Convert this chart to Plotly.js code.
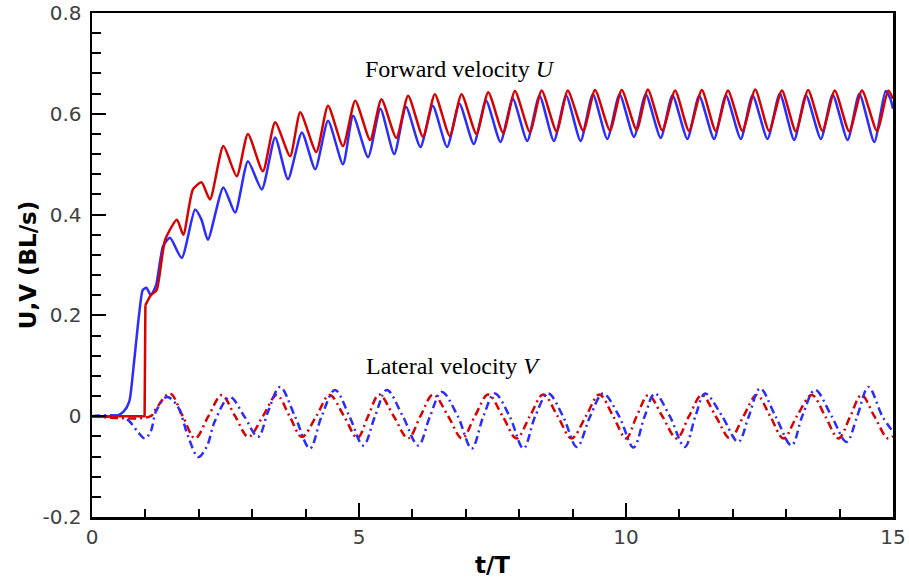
<!DOCTYPE html>
<html>
<head>
<meta charset="utf-8">
<script src="https://cdn.plot.ly/plotly-3.0.1.min.js"></script>
<style>html,body{margin:0;padding:0;background:#fff;}#chart{width:909px;height:581px;}</style>
</head>
<body>
<div id="chart"></div>
<script>
// Forward velocity U, red (solid)
var uRedT = [0,0.985,1.0,1.1,1.21,1.37,1.59,1.71,1.89,2.05,2.21,2.46,2.71,2.92,3.2,3.43,3.71,3.9,4.2,4.42,4.7,4.93,5.21,5.42,5.7,5.92,6.2,6.42,6.7,6.92,7.2,7.42,7.7,7.92,8.2,8.42,8.7,8.91,9.2,9.42,9.7,9.92,10.2,10.41,10.68,10.92,11.18,11.42,11.68,11.91,12.18,12.42,12.68,12.92,13.18,13.41,13.68,13.91,14.18,14.42,14.7,14.91,15.0];
var uRedV = [0,0,0.22,0.24,0.25,0.35,0.39,0.36,0.45,0.464,0.43,0.536,0.476,0.56,0.486,0.583,0.516,0.603,0.524,0.616,0.536,0.626,0.548,0.629,0.552,0.636,0.554,0.639,0.556,0.639,0.56,0.643,0.562,0.645,0.564,0.646,0.565,0.646,0.566,0.647,0.567,0.647,0.568,0.648,0.567,0.646,0.566,0.647,0.566,0.646,0.566,0.648,0.566,0.646,0.565,0.647,0.566,0.646,0.565,0.646,0.566,0.646,0.63];
// Forward velocity U, blue (solid)
var uBlueT = [0,0.45,0.6,0.7,0.78,0.88,0.95,1.02,1.1,1.2,1.33,1.46,1.68,1.93,2.05,2.17,2.46,2.68,2.92,3.18,3.43,3.67,3.93,4.18,4.42,4.7,4.89,5.17,5.4,5.66,5.88,6.15,6.38,6.65,6.88,7.15,7.38,7.65,7.88,8.15,8.38,8.65,8.88,9.15,9.38,9.65,9.88,10.15,10.37,10.65,10.87,11.15,11.37,11.65,11.87,12.15,12.37,12.65,12.88,13.15,13.37,13.65,13.87,14.15,14.37,14.65,14.86,14.95,15.0];
var uBlueV = [0,0,0.01,0.03,0.1,0.2,0.25,0.255,0.24,0.26,0.337,0.354,0.314,0.41,0.39,0.35,0.454,0.404,0.506,0.45,0.553,0.47,0.563,0.49,0.586,0.5,0.596,0.514,0.61,0.52,0.614,0.534,0.616,0.534,0.62,0.54,0.626,0.544,0.63,0.546,0.636,0.546,0.636,0.546,0.639,0.55,0.639,0.554,0.639,0.552,0.637,0.55,0.636,0.55,0.637,0.55,0.637,0.55,0.64,0.548,0.637,0.55,0.638,0.548,0.64,0.544,0.645,0.63,0.61];
// Lateral velocity V, red (dash-dot)
var vRedT = [0,1.1,1.2,1.46,1.7,1.93,2.18,2.43,2.68,2.93,3.2,3.46,3.7,3.93,4.2,4.45,4.72,4.97,5.17,5.38,5.65,5.92,6.15,6.39,6.67,6.93,7.17,7.42,7.69,7.95,8.2,8.45,8.72,8.98,9.25,9.5,9.76,10.0,10.2,10.42,10.68,10.95,11.18,11.42,11.68,11.95,12.2,12.45,12.7,12.95,13.2,13.48,13.73,13.98,14.2,14.41,14.65,14.9,15.0];
var vRedV = [0,0,0.015,0.045,0,-0.044,0,0.042,0,-0.041,0,0.042,0,-0.041,0,0.042,0,-0.043,0,0.043,0,-0.044,0,0.043,0,-0.044,0,0.043,0,-0.044,0,0.043,0,-0.044,0,0.043,0,-0.044,0,0.042,0,-0.044,0,0.042,0,-0.044,0,0.042,0,-0.044,0,0.042,0,-0.044,0,0.042,0,-0.044,-0.04];
// Lateral velocity V, blue (dash-dot)
var vBlueT = [0,0.55,0.7,0.85,0.99,1.1,1.2,1.4,1.6,1.8,1.99,2.15,2.3,2.58,2.85,3.11,3.3,3.52,3.8,4.08,4.3,4.55,4.82,5.08,5.3,5.52,5.82,6.11,6.33,6.55,6.85,7.11,7.33,7.54,7.82,8.08,8.3,8.54,8.82,9.08,9.33,9.57,9.87,10.14,10.35,10.54,10.82,11.1,11.3,11.48,11.8,12.1,12.3,12.51,12.8,13.1,13.3,13.54,13.85,14.13,14.33,14.54,14.8,15.0];
var vBlueV = [0,0,-0.01,-0.03,-0.044,-0.03,0.01,0.038,0.02,-0.04,-0.081,-0.06,-0.01,0.038,0,-0.041,0.01,0.058,0,-0.064,0,0.052,0,-0.058,0,0.052,0,-0.058,0,0.048,0,-0.064,0,0.045,0,-0.064,0,0.045,0,-0.061,0,0.045,0,-0.062,0,0.045,0,-0.061,0,0.045,0,-0.051,0,0.055,0,-0.058,0,0.052,0,-0.051,0,0.058,0,-0.031];

var xTicks = [0,5,10,15];
var xTickText = ['0','5','10','15'];
var yTicks = [-0.2,0,0.2,0.4,0.6,0.8];
var yTickText = ['-0.2','0','0.2','0.4','0.6','0.8'];

var RED = '#d80000', BLUE = '#2c2cff';
var dd = '8px,4px,2px,4px';
var JUMP = 3; // red U: flat start + vertical jump drawn straight, rest smoothed

var traces = [
  {x: vRedT, y: vRedV, mode:'lines', line:{color:RED, width:2.5, dash:dd, shape:'spline', smoothing:1}},
  {x: vBlueT, y: vBlueV, mode:'lines', line:{color:BLUE, width:2.5, dash:dd, shape:'spline', smoothing:1}},
  {x: uBlueT, y: uBlueV, mode:'lines', line:{color:BLUE, width:2.5, shape:'spline', smoothing:0.6}},
  {x: uRedT.slice(0, JUMP), y: uRedV.slice(0, JUMP), mode:'lines', line:{color:RED, width:2.5}},
  {x: uRedT.slice(JUMP - 1), y: uRedV.slice(JUMP - 1), mode:'lines', line:{color:RED, width:2.5, shape:'spline', smoothing:0.6}}
];

var axisCommon = {
  showgrid:false, zeroline:false, showline:true, linecolor:'#000', linewidth:2.5, mirror:true,
  ticks:'inside', ticklen:14, tickwidth:2, tickcolor:'#000',
  tickfont:{family:'DejaVu Sans, Arial, sans-serif', size:20, color:'#404040'}
};

var layout = {
  width:909, height:581,
  margin:{l:92, r:16, t:13, b:64},
  paper_bgcolor:'#fff', plot_bgcolor:'#fff',
  showlegend:false,
  xaxis: Object.assign({}, axisCommon, {
    range:[0,15], tickmode:'array', tickvals:xTicks, ticktext:xTickText,
    minor:{dtick:1, tick0:0, ticks:'inside', ticklen:8, tickwidth:2, tickcolor:'#000'},
    title:{text:'<b>t/T</b>', font:{family:'DejaVu Sans, Arial, sans-serif', size:23, color:'#000'}, standoff:10}
  }),
  yaxis: Object.assign({}, axisCommon, {
    range:[-0.2,0.8], tickmode:'array', tickvals:yTicks, ticktext:yTickText,
    minor:{dtick:0.04, tick0:0, ticks:'inside', ticklen:9, tickwidth:2, tickcolor:'#000'},
    ticklabelstandoff:4,
    title:{text:'<b>U,V (BL/s)</b>', font:{family:'DejaVu Sans, Arial, sans-serif', size:23, color:'#000'}, standoff:0}
  }),
  annotations:[
    {x:6.89, y:0.689, xref:'x', yref:'y', text:'Forward velocity <i>U</i>', showarrow:false,
     font:{family:'Liberation Serif, Times New Roman, serif', size:24, color:'#000'}},
    {x:6.76, y:0.10, xref:'x', yref:'y', text:'Lateral velocity <i>V</i>', showarrow:false,
     font:{family:'Liberation Serif, Times New Roman, serif', size:24, color:'#000'}}
  ]
};

Plotly.newPlot('chart', traces, layout, {displayModeBar:false, staticPlot:true});
</script>
</body>
</html>
